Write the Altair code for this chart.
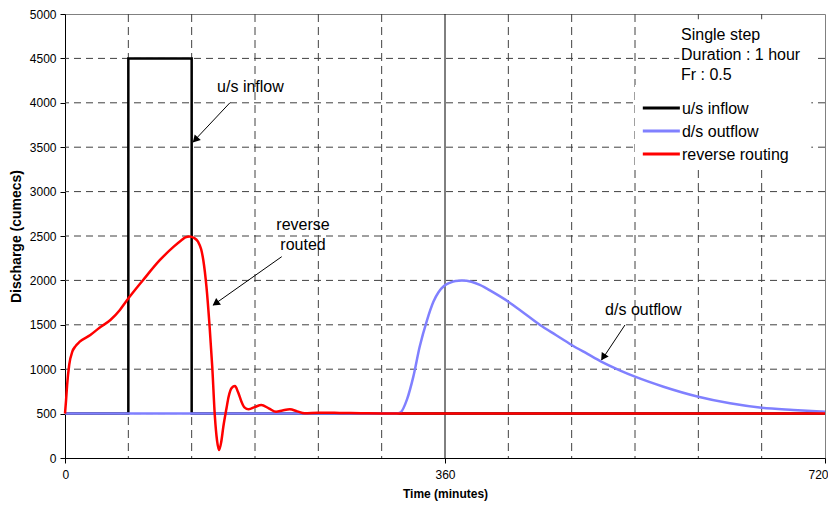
import altair as alt
import pandas as pd

# ---------------- data ----------------
series_names = ["u/s inflow", "d/s outflow", "reverse routing"]
series_colors = ["#000000", "#8080FF", "#FF0000"]

inflow_t = [0, 60, 60, 120, 120, 720]
inflow_q = [500, 500, 4500, 4500, 500, 500]

outflow_t = [0, 300, 314, 318, 324, 330, 336, 343, 349, 354, 359, 365, 370, 376,
             385, 393, 405, 420, 435, 450, 465, 480, 495, 508, 525, 540, 567,
             600, 630, 660, 690, 720]
outflow_q = [500, 500, 502, 515, 660, 916, 1253, 1554, 1760, 1870, 1937, 1975,
             1993, 1998, 1985, 1950, 1870, 1760, 1630, 1498, 1385, 1273, 1172,
             1085, 990, 916, 803, 690, 616, 566, 541, 521]

reverse_t = [0, 1, 2, 4, 7, 10, 14, 24, 33, 43, 52, 58, 74, 90, 103, 110, 114,
             118, 122, 126, 129, 131, 134, 137, 139.5, 142, 144, 146, 148, 150,
             153, 155, 158, 161, 164, 167, 170, 174, 180, 186, 193, 200, 206,
             213, 220, 227, 240, 260, 280, 300, 330, 720]
reverse_q = [500, 650, 820, 1050, 1200, 1260, 1310, 1385, 1470, 1554, 1667,
             1765, 2004, 2230, 2380, 2450, 2485, 2495, 2480, 2436, 2350, 2230,
             1929, 1479, 1028, 465, 200, 90, 180, 352, 560, 690, 790, 810, 740,
             640, 570, 548, 575, 597, 560, 521, 535, 548, 525, 503, 510, 508,
             505, 502, 500, 500]

x_ticks = [0, 360, 720]
y_ticks = list(range(0, 5001, 500))
minor_x = [60, 120, 180, 240, 300, 420, 480, 540, 600, 660]
major_x = [360]
grid_y = [500, 1000, 1500, 2000, 2500, 3000, 3500, 4000, 4500]

# annotations
note_text = ["u/s inflow", "reverse", "routed", "d/s outflow"]
note_t = [175.7, 225.5, 225.5, 547.9]
note_q = [4127, 2568, 2342, 1610]

arrow_t1 = [156.3, 205.3, 530.5]
arrow_q1 = [4001, 2267, 1498]
arrow_t2 = [121.5, 140.5, 508.5]
arrow_q2 = [3562, 1723, 1104]
head_t = [124.2, 143.6, 510.5]
head_q = [3592, 1749, 1146]
head_angle = [223, 235, 214]

info_lines = ["Single step", "Duration : 1 hour", "Fr : 0.5"]
info_t = [583.6, 583.6, 583.6]
info_q = [4707, 4482, 4257]

# white boxes behind the info text and the legend
box_t = [582.0, 540.0]
box_t2 = [713.0, 707.0]
box_q = [4940.0, 4200.0]
box_q2 = [4200.0, 3290.0]

# legend (key lines and labels)
key_t = [547.4, 547.4, 547.4]
key_t2 = [582.5, 582.5, 582.5]
key_q = [3941, 3682, 3423]
key_label_t = [584.5, 584.5, 584.5]

# ---------------- tables ----------------
rows = []
for name, ts, qs in zip(series_names,
                        [inflow_t, outflow_t, reverse_t],
                        [inflow_q, outflow_q, reverse_q]):
    for i, (t, q) in enumerate(zip(ts, qs)):
        rows.append({"series": name, "t": t, "q": q, "i": i})
df = pd.DataFrame(rows)

key_df = pd.DataFrame({"series": series_names, "t": key_t, "t2": key_t2,
                       "q": key_q, "tl": key_label_t})

FONT = "Liberation Sans"

xscale = alt.Scale(domain=[0, 720], nice=False, zero=False)
yscale = alt.Scale(domain=[0, 5000], nice=False)

xaxis = alt.Axis(values=x_ticks, title="Time (minutes)", grid=False,
                 tickSize=5, labelPadding=6, titlePadding=8, format="d",
                 labelFontSize=12, titleFontSize=12, titleFontWeight="bold",
                 labelFont=FONT, titleFont=FONT, domainColor="black",
                 tickColor="black", labelColor="black", titleColor="black",
                 labelFlush=True, labelFlushOffset=3)
yaxis = alt.Axis(values=y_ticks, title="Discharge (cumecs)", grid=False,
                 tickSize=5, labelPadding=4, titlePadding=6, format="d",
                 labelFontSize=12, titleFontSize=14, titleFontWeight="bold",
                 labelFont=FONT, titleFont=FONT, domainColor="black",
                 tickColor="black", labelColor="black", titleColor="black")


def X(field):
    return alt.X(field, type="quantitative", scale=xscale, axis=xaxis)


def Y(field):
    return alt.Y(field, type="quantitative", scale=yscale, axis=yaxis)


color = alt.Color("series:N",
                  scale=alt.Scale(domain=series_names, range=series_colors),
                  legend=None)

grid_h = alt.Chart(pd.DataFrame({"q": grid_y})).mark_rule(
    color="#404040", strokeWidth=1, strokeDash=[7, 5]).encode(y=Y("q"))
grid_v = alt.Chart(pd.DataFrame({"t": minor_x})).mark_rule(
    color="#404040", strokeWidth=1, strokeDash=[8, 5]).encode(x=X("t"))
grid_major = alt.Chart(pd.DataFrame({"t": major_x})).mark_rule(
    color="black", strokeWidth=1).encode(x=X("t"))

boxes = alt.Chart(pd.DataFrame({"t": box_t, "t2": box_t2,
                                "q": box_q, "q2": box_q2})).mark_rect(
    color="white").encode(x=X("t"), x2="t2", y=Y("q"), y2="q2")

lines = []
for name in series_names:
    interp = "linear" if name == "u/s inflow" else "monotone"
    lines.append(
        alt.Chart(df).transform_filter(alt.datum.series == name).mark_line(
            strokeWidth=2.5, interpolate=interp).encode(
            x=X("t"), y=Y("q"), color=color, order="i:Q")
    )

key_lines = alt.Chart(key_df).mark_rule(strokeWidth=3).encode(
    x=X("t"), x2="t2", y=Y("q"), color=color)
key_labels = alt.Chart(key_df).mark_text(
    font=FONT, fontSize=16, align="left", baseline="middle", color="black", dy=1
).encode(x=X("tl"), y=Y("q"), text="series:N")

notes = alt.Chart(pd.DataFrame({"t": note_t, "q": note_q, "txt": note_text})).mark_text(
    font=FONT, fontSize=16, align="center", baseline="alphabetic", color="black"
).encode(x=X("t"), y=Y("q"), text="txt:N")

info = alt.Chart(pd.DataFrame({"t": info_t, "q": info_q, "txt": info_lines})).mark_text(
    font=FONT, fontSize=16, align="left", baseline="alphabetic", color="black"
).encode(x=X("t"), y=Y("q"), text="txt:N")

arrows = alt.Chart(pd.DataFrame({"t": arrow_t1, "q": arrow_q1,
                                 "t2": arrow_t2, "q2": arrow_q2})).mark_rule(
    color="black", strokeWidth=1).encode(x=X("t"), y=Y("q"), x2="t2", y2="q2")

heads = alt.Chart(pd.DataFrame({"t": head_t, "q": head_q, "a": head_angle})).mark_point(
    shape="triangle", filled=True, color="black", size=70, opacity=1
).encode(x=X("t"), y=Y("q"), angle=alt.Angle("a:Q", scale=None))

chart = alt.layer(
    grid_h, grid_v, grid_major, boxes, *lines, key_lines, key_labels,
    arrows, heads, notes, info
).properties(
    width=760, height=444,
    autosize=alt.AutoSizeParams(type="none"),
    padding={"left": 57, "top": 6, "right": 3, "bottom": 45},
    background="white",
).configure_view(stroke="#808080", strokeWidth=1)

chart.save("out.html", embed_options={"renderer": "svg", "actions": False})
